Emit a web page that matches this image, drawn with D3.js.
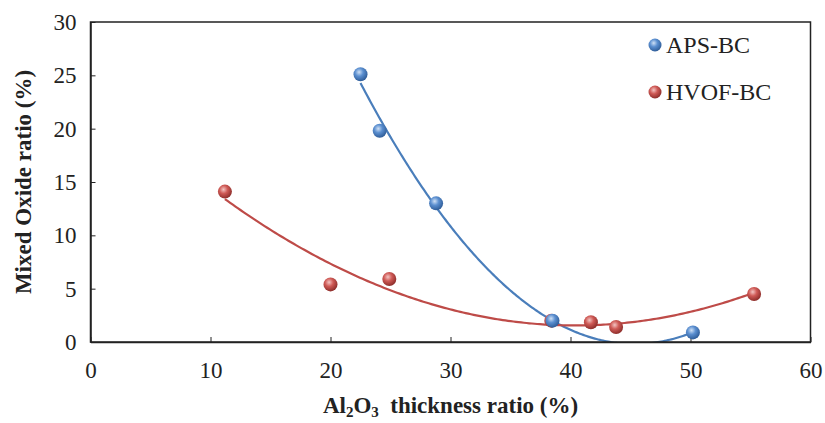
<!DOCTYPE html>
<html>
<head>
<meta charset="utf-8">
<script src="https://cdn.jsdelivr.net/npm/d3@7"></script>
<style>
  body { margin: 0; background: #fff; }
  text { font-family: "Liberation Serif", "Times New Roman", serif; fill: #222; }
</style>
</head>
<body>
<div id="chart"></div>
<script>
// data
var apsX = [22.5, 24.1, 28.8, 38.5, 50.2];
var apsY = [25.1, 19.8, 13.0, 2.0, 0.9];
var hvofX = [11.2, 20.0, 24.9, 38.4, 41.7, 43.8, 55.3];
var hvofY = [14.1, 5.4, 5.9, 2.0, 1.85, 1.4, 4.5];
var xTicks = [0, 10, 20, 30, 40, 50, 60];
var yTicks = [0, 5, 10, 15, 20, 25, 30];
var seriesNames = ["APS-BC", "HVOF-BC"];

var width = 825, height = 423;
var pLeft = 90.5, pRight = 810.5, pTop = 22, pBottom = 342;

var svg = d3.select("#chart").append("svg")
    .attr("width", width).attr("height", height);

var x = d3.scaleLinear().domain([0, 60]).range([pLeft, pRight]);
var y = d3.scaleLinear().domain([0, 30]).range([pBottom, pTop]);

var defs = svg.append("defs");
function ballGrad(id, light, mid, dark) {
    var g = defs.append("radialGradient").attr("id", id)
        .attr("cx", "40%").attr("cy", "35%").attr("r", "65%");
    g.append("stop").attr("offset", "0%").attr("stop-color", light);
    g.append("stop").attr("offset", "45%").attr("stop-color", mid);
    g.append("stop").attr("offset", "100%").attr("stop-color", dark);
}
ballGrad("blueBall", "#cfe0f5", "#5b8fd0", "#2f5d99");
ballGrad("redBall", "#f3c4c2", "#cf5a56", "#8e2e2b");

defs.append("clipPath").attr("id", "plotClip")
    .append("rect").attr("x", pLeft).attr("y", pTop)
    .attr("width", pRight - pLeft).attr("height", pBottom - pTop);

// least squares quadratic (Excel style trendline)
function quadFit(xs, ys) {
    var n = xs.length, s = [0, 0, 0, 0, 0], t = [0, 0, 0];
    for (var i = 0; i < n; i++) {
        for (var k = 0; k < 5; k++) s[k] += Math.pow(xs[i], k);
        for (var k = 0; k < 3; k++) t[k] += ys[i] * Math.pow(xs[i], k);
    }
    var m = [[s[0], s[1], s[2], t[0]], [s[1], s[2], s[3], t[1]], [s[2], s[3], s[4], t[2]]];
    for (var c = 0; c < 3; c++) {
        for (var r = c + 1; r < 3; r++) {
            var f = m[r][c] / m[c][c];
            for (var j = c; j < 4; j++) m[r][j] -= f * m[c][j];
        }
    }
    var a = [0, 0, 0];
    for (var r = 2; r >= 0; r--) {
        var v = m[r][3];
        for (var j = r + 1; j < 3; j++) v -= m[r][j] * a[j];
        a[r] = v / m[r][r];
    }
    return function (xv) { return a[0] + a[1] * xv + a[2] * xv * xv; };
}

var line = d3.line().x(function (d) { return x(d[0]); }).y(function (d) { return y(d[1]); });

function trend(xs, ys, color) {
    var f = quadFit(xs, ys);
    var lo = d3.min(xs), hi = d3.max(xs);
    var pts = d3.range(0, 201).map(function (i) {
        var xv = lo + (hi - lo) * i / 200;
        return [xv, f(xv)];
    });
    svg.append("path").datum(pts)
        .attr("clip-path", "url(#plotClip)")
        .attr("d", line)
        .attr("fill", "none")
        .attr("stroke", color)
        .attr("stroke-width", 2.2);
}
trend(apsX, apsY, "#4a7ebb");
trend(hvofX, hvofY, "#be4b48");

// frame
svg.append("rect").attr("x", pLeft).attr("y", pTop)
    .attr("width", pRight - pLeft).attr("height", pBottom - pTop)
    .attr("fill", "none").attr("stroke", "#222").attr("stroke-width", 1.5);

// axes with inward ticks
var xAxis = svg.append("g").attr("transform", "translate(0," + pBottom + ")")
    .call(d3.axisBottom(x).tickValues(xTicks).tickSizeInner(-5).tickSizeOuter(0).tickPadding(14));
var yAxis = svg.append("g").attr("transform", "translate(" + pLeft + ",0)")
    .call(d3.axisLeft(y).tickValues(yTicks).tickSizeInner(-5).tickSizeOuter(0).tickPadding(14));
[xAxis, yAxis].forEach(function (g) {
    g.select(".domain").attr("stroke", "#222").attr("stroke-width", 1.5);
    g.selectAll(".tick line").attr("stroke", "#222");
    g.selectAll(".tick text").attr("font-family", "Liberation Serif")
        .attr("font-size", 23).attr("fill", "#222");
});
xAxis.selectAll(".tick text").attr("dy", "0.95em");

// points
function dots(xs, ys, grad) {
    svg.append("g").selectAll("circle")
        .data(xs.map(function (v, i) { return [v, ys[i]]; }))
        .enter().append("circle")
        .attr("cx", function (d) { return x(d[0]); })
        .attr("cy", function (d) { return y(d[1]); })
        .attr("r", 7)
        .attr("fill", "url(#" + grad + ")");
}
dots(hvofX, hvofY, "redBall");
dots(apsX, apsY, "blueBall");

// legend
var legend = svg.append("g");
[["blueBall", 45], ["redBall", 92]].forEach(function (p, i) {
    legend.append("circle").attr("cx", 655).attr("cy", p[1]).attr("r", 6.5)
        .attr("fill", "url(#" + p[0] + ")");
    legend.append("text").attr("x", 666).attr("y", p[1] + 8)
        .attr("font-size", 24).text(seriesNames[i]);
});

// axis titles
svg.append("text")
    .attr("transform", "translate(31," + ((pTop + pBottom) / 2) + ") rotate(-90)")
    .attr("text-anchor", "middle").attr("font-weight", "bold").attr("font-size", 23)
    .text("Mixed Oxide ratio (%)");

var xt = svg.append("text").attr("x", (pLeft + pRight) / 2).attr("y", 413)
    .attr("text-anchor", "middle").attr("font-weight", "bold").attr("font-size", 23);
xt.append("tspan").text("Al");
xt.append("tspan").attr("font-size", 15).attr("dy", 4).text("2");
xt.append("tspan").attr("dy", -4).text("O");
xt.append("tspan").attr("font-size", 15).attr("dy", 4).text("3");
xt.append("tspan").attr("dy", -4).text("\u00a0 thickness ratio (%)");
</script>
</body>
</html>
